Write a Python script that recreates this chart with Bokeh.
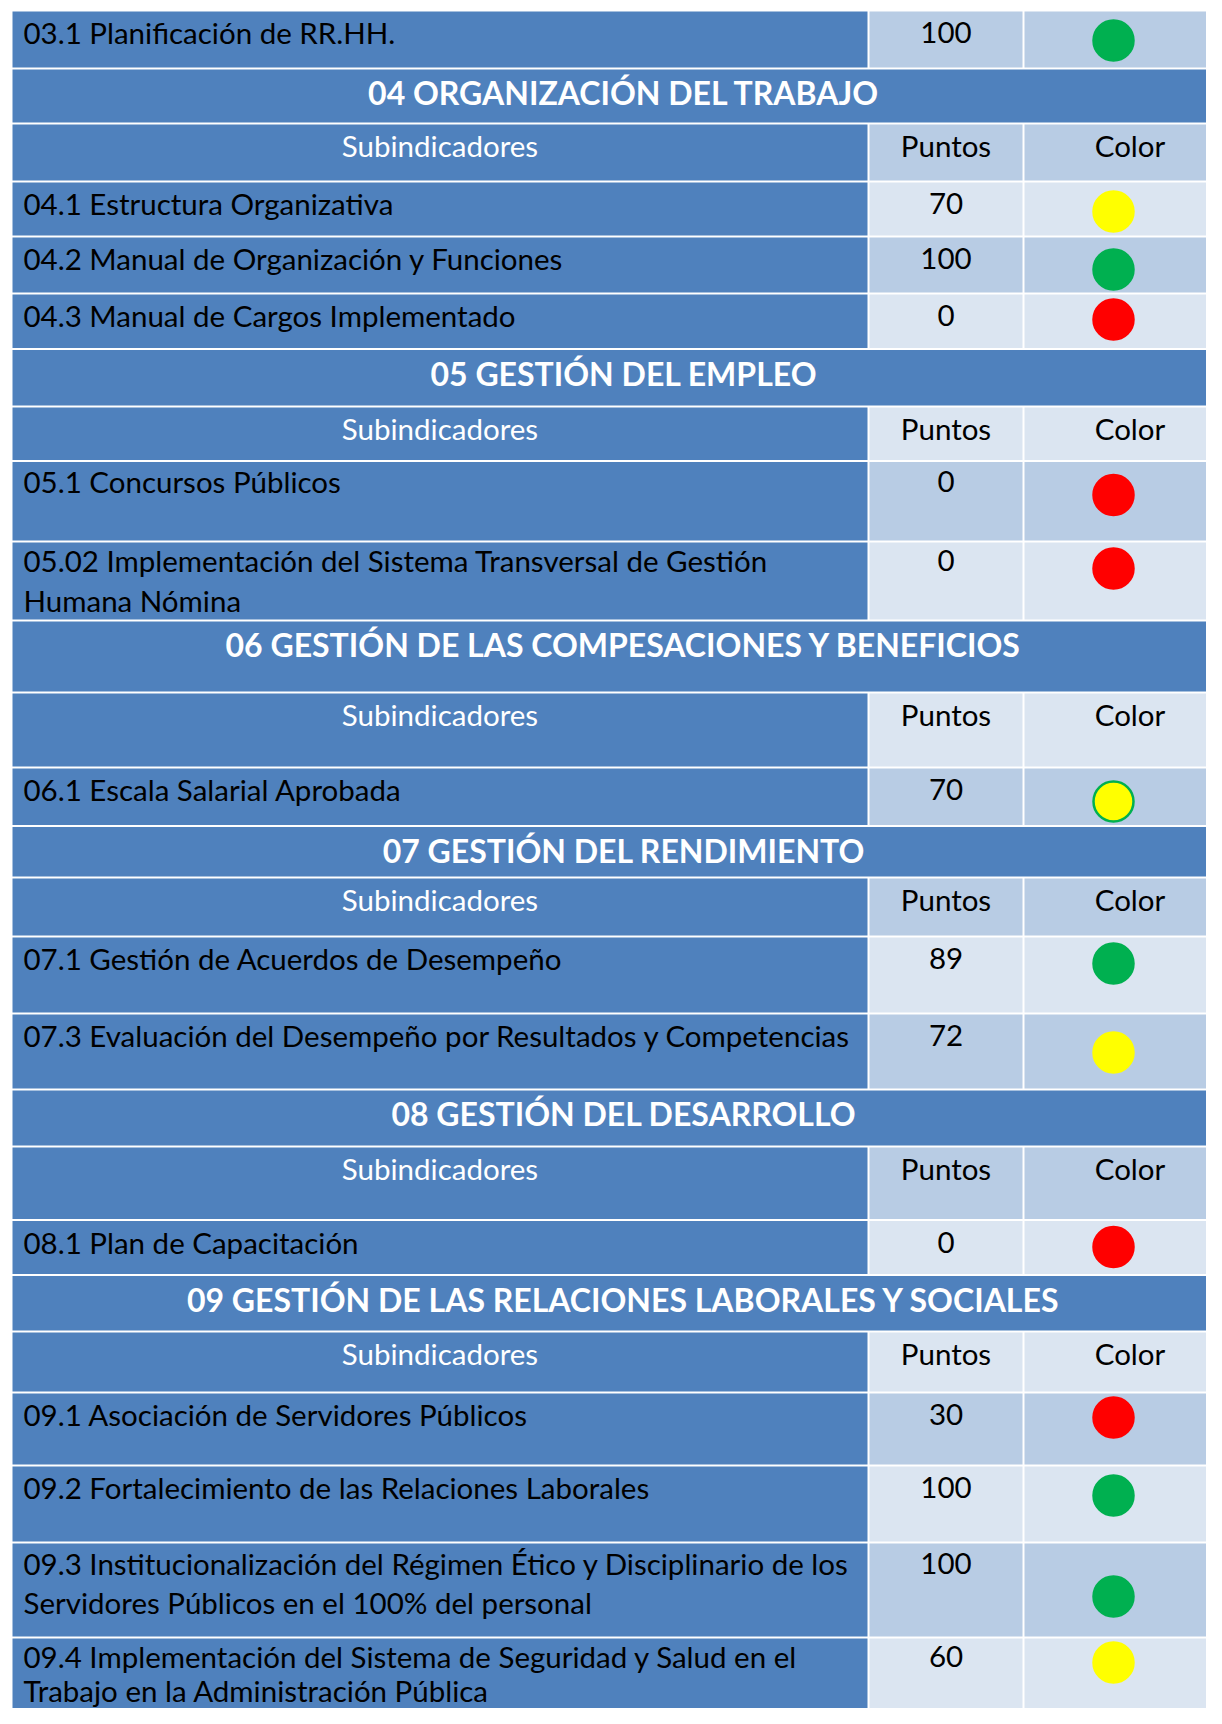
from bokeh.plotting import figure
from bokeh.models import Range1d, ColumnDataSource
from bokeh.core.properties import value
from bokeh.embed import file_html
from bokeh.resources import INLINE

# ---------------- data ----------------
sections = [
    "04 ORGANIZACIÓN DEL TRABAJO",
    "05 GESTIÓN DEL EMPLEO",
    "06 GESTIÓN DE LAS COMPESACIONES Y BENEFICIOS",
    "07 GESTIÓN DEL RENDIMIENTO",
    "08 GESTIÓN DEL DESARROLLO",
    "09 GESTIÓN DE LAS RELACIONES LABORALES Y SOCIALES",
]
header_labels = ["Subindicadores", "Puntos", "Color"]
subindicators = [
    "03.1 Planificación de RR.HH.",
    "04.1 Estructura Organizativa",
    "04.2 Manual de Organización y Funciones",
    "04.3 Manual de Cargos Implementado",
    "05.1 Concursos Públicos",
    "05.02 Implementación del Sistema Transversal de Gestión\nHumana Nómina",
    "06.1 Escala Salarial Aprobada",
    "07.1 Gestión de Acuerdos de Desempeño",
    "07.3 Evaluación del Desempeño por Resultados y Competencias",
    "08.1 Plan de Capacitación",
    "09.1 Asociación de Servidores Públicos",
    "09.2 Fortalecimiento de las Relaciones Laborales",
    "09.3 Institucionalización del Régimen Ético y Disciplinario de los\nServidores Públicos en el 100% del personal",
    "09.4 Implementación del Sistema de Seguridad y Salud en el\nTrabajo en la Administración Pública",
]
points = [100, 70, 100, 0, 0, 0, 70, 89, 72, 0, 30, 100, 100, 60]
status = ["green", "yellow", "green", "red", "red", "red", "yellow",
          "green", "yellow", "red", "red", "green", "green", "yellow"]

# ---------------- layout / style ----------------
row_kind = ["item", "section", "header", "item", "item", "item",
            "section", "header", "item", "item",
            "section", "header", "item",
            "section", "header", "item", "item",
            "section", "header", "item",
            "section", "header", "item", "item", "item", "item"]
row_edges = [10, 68, 123, 181, 236, 293, 348.5, 406, 460.5, 541, 620, 692, 767,
             825.5, 877, 936, 1013, 1089, 1146, 1219.5, 1274.5, 1331, 1392,
             1465, 1542, 1637, 1730]
row_shade = ["m", None, "m", "l", "m", "l", None, "l", "m", "l", None, "l", "m",
             None, "m", "l", "m", None, "m", "l", None, "l", "m", "l", "m", "l"]
dot_dy = [30, 30, 33, 26, 34, 27, 34, 27, 39, 27, 25, 30, 54, 25]
text_dy = [22, 22, 22, 22, 20, 19, 22, 22, 22, 22, 22, 22, 21, 19]
line_h = [39, 39, 39, 39, 39, 40, 39, 39, 39, 39, 39, 39, 39, 34]

DARK = "#4F81BD"
SHADES = {"m": "#B8CCE4", "l": "#DBE5F1"}
DOT = {"green": "#00B050", "yellow": "#FFFF00", "red": "#FF0000"}
X0, X1, X2, X3 = 11, 868, 1023, 1236
FONT = "Lato"
FS = "29.5px"
FS_B = "32px"

p = figure(width=1206, height=1708, x_range=Range1d(0, 1206), y_range=Range1d(1708, 0),
           output_backend="svg", toolbar_location=None, min_border=0,
           x_axis_location=None, y_axis_location=None)
p.grid.visible = False
p.outline_line_color = None
p.background_fill_color = "white"
p.border_fill_color = "white"

cells = dict(left=[], right=[], top=[], bottom=[], color=[])
def cell(l, r, t, b, c):
    cells["left"].append(l + 1)
    cells["right"].append(r - 1)
    cells["top"].append(t + 1)
    cells["bottom"].append(b - 1)
    cells["color"].append(c)

txt = dict(x=[], y=[], text=[], color=[], align=[])
btxt = dict(x=[], y=[], text=[])
dots = dict(x=[], y=[], fill=[], line=[])

sec_i = 0
item_i = 0
for r, kind in enumerate(row_kind):
    top, bot = row_edges[r], row_edges[r + 1]
    if kind == "section":
        cell(X0, X3, top, bot, DARK)
        btxt["x"].append((X0 + X3) / 2)
        btxt["y"].append(top + 24)
        btxt["text"].append(sections[sec_i])
        sec_i += 1
        continue
    shade = SHADES[row_shade[r]]
    cell(X0, X1, top, bot, DARK)
    cell(X1, X2, top, bot, shade)
    cell(X2, X3, top, bot, shade)
    if kind == "header":
        for lab, cx, col in zip(header_labels, [(X0 + X1) / 2, (X1 + X2) / 2, (X2 + X3) / 2],
                                ["white", "black", "black"]):
            txt["x"].append(cx); txt["y"].append(top + 22); txt["text"].append(lab)
            txt["color"].append(col); txt["align"].append("center")
    else:
        ty = top + text_dy[item_i]
        for k, line in enumerate(subindicators[item_i].split("\n")):
            txt["x"].append(X0 + 12); txt["y"].append(ty + k * line_h[item_i])
            txt["text"].append(line); txt["color"].append("black"); txt["align"].append("left")
        txt["x"].append((X1 + X2) / 2); txt["y"].append(ty)
        txt["text"].append(str(points[item_i])); txt["color"].append("black")
        txt["align"].append("center")
        dots["x"].append(X2 + 90)
        dots["y"].append(top + dot_dy[item_i])
        dots["fill"].append(DOT[status[item_i]])
        dots["line"].append("#00B050" if item_i == 6 else DOT[status[item_i]])
        item_i += 1

p.quad(left="left", right="right", top="top", bottom="bottom", fill_color="color",
       line_color=None, source=ColumnDataSource(cells))
p.text(x="x", y="y", text="text", text_color="color", text_align="align",
       text_baseline="alphabetic", text_font=value(FONT), text_font_size=FS,
       source=ColumnDataSource(txt))
p.text(x="x", y="y", text="text", text_color="white", text_align="center",
       text_baseline="alphabetic", text_font=value(FONT), text_font_size=FS_B,
       text_font_style="bold", source=ColumnDataSource(btxt))
p.scatter(x="x", y="y", marker="circle", size=40, fill_color="fill", line_color="line",
          line_width=2.5, source=ColumnDataSource(dots))

open("out.html", "w").write(file_html(p, INLINE))
